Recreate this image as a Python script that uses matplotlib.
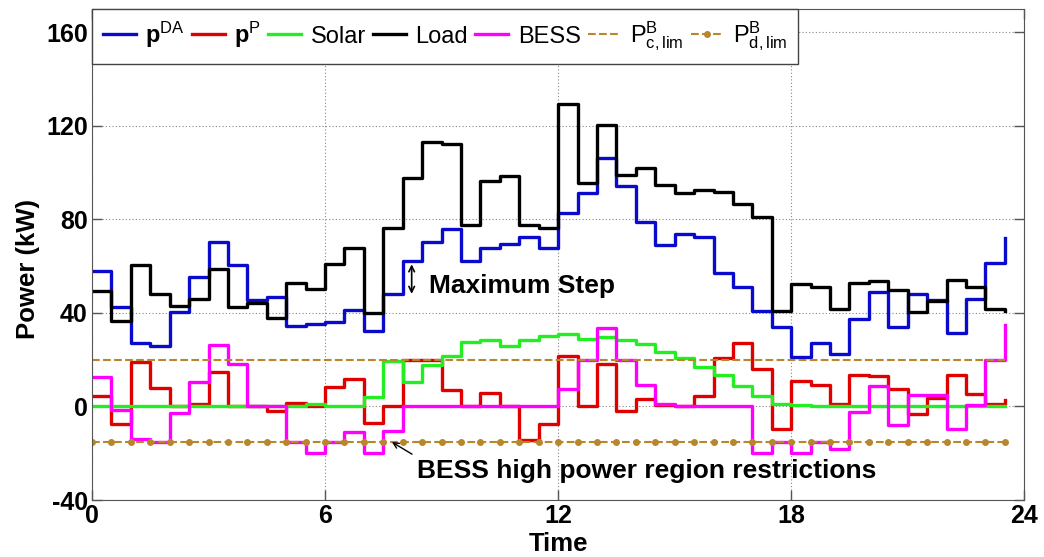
import numpy as np
import matplotlib
matplotlib.use("Agg")
import matplotlib.pyplot as plt

plt.rcParams['font.family'] = ['Liberation Sans', 'DejaVu Sans']
plt.rcParams['mathtext.fontset'] = 'custom'
plt.rcParams['mathtext.rm'] = 'Liberation Sans'
plt.rcParams['mathtext.it'] = 'Liberation Sans:italic'
plt.rcParams['mathtext.bf'] = 'Liberation Sans:bold'
plt.rcParams['axes.unicode_minus'] = False

# DATI (passo di mezz'ora, 48 intervalli)
tempo = np.arange(48) * 0.5

p_da = [58, 42.5, 27.3, 26, 40.6, 55.4, 70.5, 60.7, 45.4, 47, 34.3, 35.4,
        36.1, 41.1, 32.3, 48, 62.3, 70.4, 76.1, 62.1, 67.6, 69.4, 72.6, 68,
        82.6, 91.4, 106.4, 94.3, 79, 69, 73.7, 72.6, 57.1, 50.9, 40.7, 34,
        21.1, 27.1, 22.3, 37.3, 49, 34, 48.3, 45.4, 31.4, 46.1, 61.5, 72]

p_p = [4.7, -7.4, 19.2, 8, 0, 1.2, 14.8, 0, 0, -2, 1.3, 0.3,
       8.3, 11.9, -7.2, 0, 19.7, 19.7, 7.2, 0.4, 5.7, 0.4, -14.4, -7.5,
       21.7, 0.2, 18.3, -1.8, 3.4, 0.5, 0.4, 4.5, 20.9, 27.3, 15.9, -9.6,
       11.1, 9, 1.1, 13.3, 13, 7.6, -3, 3.5, 13.6, 5.2, 1, 2.9]

solar = [0, 0, 0, 0, 0, 0, 0, 0, 0, 0, 0.3, 1.2,
         0, 0, 4.2, 19.4, 10.4, 17.6, 21.8, 27.5, 28.3, 25.7, 28.6, 30,
         31, 29, 29.7, 28.4, 26.8, 23.5, 20.8, 17, 13.6, 8.8, 4.7, 1.1,
         0.5, 0.4, 0.3, 0.2, 0, 0, 0, 0, 0, 0, 0, 0]

load = [49.4, 36.4, 60.4, 48.3, 42.9, 45.9, 58.6, 42.6, 44.3, 38, 52.9, 50.4,
        61.1, 68, 40.1, 76.4, 97.6, 113, 112.3, 77.6, 96.6, 98.7, 77.6, 76.4,
        129.3, 95.6, 120.3, 98.9, 101.8, 94.6, 91.4, 92.8, 91.8, 86.6, 81.2, 40.9,
        52.3, 51.1, 41.9, 52.9, 53.6, 50, 40.4, 45.1, 54.3, 50.9, 41.9, 41]

bess = [12.6, -1.4, -13.8, -15.1, -2.6, 10.6, 26.2, 18.3, 0, 0, -15, -20,
        -15, -10.7, -19.9, -10.6, 0, 0, 0, 0, 0, 0, 0, 0,
        7.6, 20, 33.7, 20, 9, 1.1, 0, 0, 0, 0, -20, -15,
        -20, -15, -18.1, -2.4, 8.6, -8.1, 4.8, 4.8, -9.6, 0.7, 20, 34.7]

p_c_lim = [20] * 48
p_d_lim = [-15] * 48

# RAPPRESENTAZIONE
fig = plt.figure(figsize=(10.44, 5.57), dpi=100)
ax = fig.add_axes([0.0881, 0.1023, 0.893, 0.8815])

lw = 2.4
ax.step(tempo, p_da, where='post', color='#0A0ACD', lw=lw, label=r'$\mathbf{p}^{\mathrm{DA}}$')
ax.step(tempo, p_p, where='post', color='#E00000', lw=lw, label=r'$\mathbf{p}^{\mathrm{P}}$')
ax.step(tempo, solar, where='post', color='#22EE22', lw=lw, label='Solar')
ax.step(tempo, load, where='post', color='black', lw=lw, label='Load')
ax.step(tempo, bess, where='post', color='#FF00FF', lw=lw, label='BESS')
ax.plot(tempo, p_c_lim, '--', color='#B8862B', lw=1.5, label=r'$\mathrm{P}^{\mathrm{B}}_{\mathrm{c,lim}}$')
ax.plot(tempo, p_d_lim, '--', color='#B8862B', lw=1.5, marker='.', markersize=8,
        label=r'$\mathrm{P}^{\mathrm{B}}_{\mathrm{d,lim}}$')

ax.set_xlim(0, 24)
ax.set_ylim(-40, 170)
ax.set_xticks([0, 6, 12, 18, 24])
ax.set_yticks([-40, 0, 40, 80, 120, 160])
ax.tick_params(direction='in', length=7, width=1, top=True, right=True,
               labelsize=18, pad=3, color='#555555')
for lab in ax.get_xticklabels() + ax.get_yticklabels():
    lab.set_fontweight('bold')
for s in ax.spines.values():
    s.set_color('#555555')
ax.grid(True, linestyle=(0, (1, 2)), color='#888888', lw=0.8)
ax.set_axisbelow(True)

ax.set_xlabel('Time', fontsize=18.5, fontweight='bold')
ax.set_ylabel('Power (kW)', fontsize=18.5, fontweight='bold')
ax.xaxis.set_label_coords(0.5, -0.066)
ax.yaxis.set_label_coords(-0.056, 0.47)

leg = ax.legend(loc='upper left', ncol=7, fontsize=17, frameon=True, fancybox=False,
                borderaxespad=0, handlelength=1.4, handletextpad=0.4, columnspacing=0.3,
                borderpad=0.45, framealpha=1)
leg.get_frame().set_edgecolor('#444444')
leg.get_frame().set_linewidth(1)

# ANNOTAZIONI
ax.annotate('', xy=(8.23, 62), xytext=(8.23, 47),
            arrowprops=dict(arrowstyle='<->', color='black', lw=1.2))
ax.text(8.68, 51.5, 'Maximum Step', fontsize=19, fontweight='bold', va='center', ha='left')
ax.annotate('', xy=(7.66, -14.6), xytext=(8.3, -21),
            arrowprops=dict(arrowstyle='->', color='black', lw=1))
ax.text(8.37, -27.7, 'BESS high power region restrictions', fontsize=19,
        fontweight='bold', va='center', ha='left')

fig.savefig('out.png', dpi=100)
